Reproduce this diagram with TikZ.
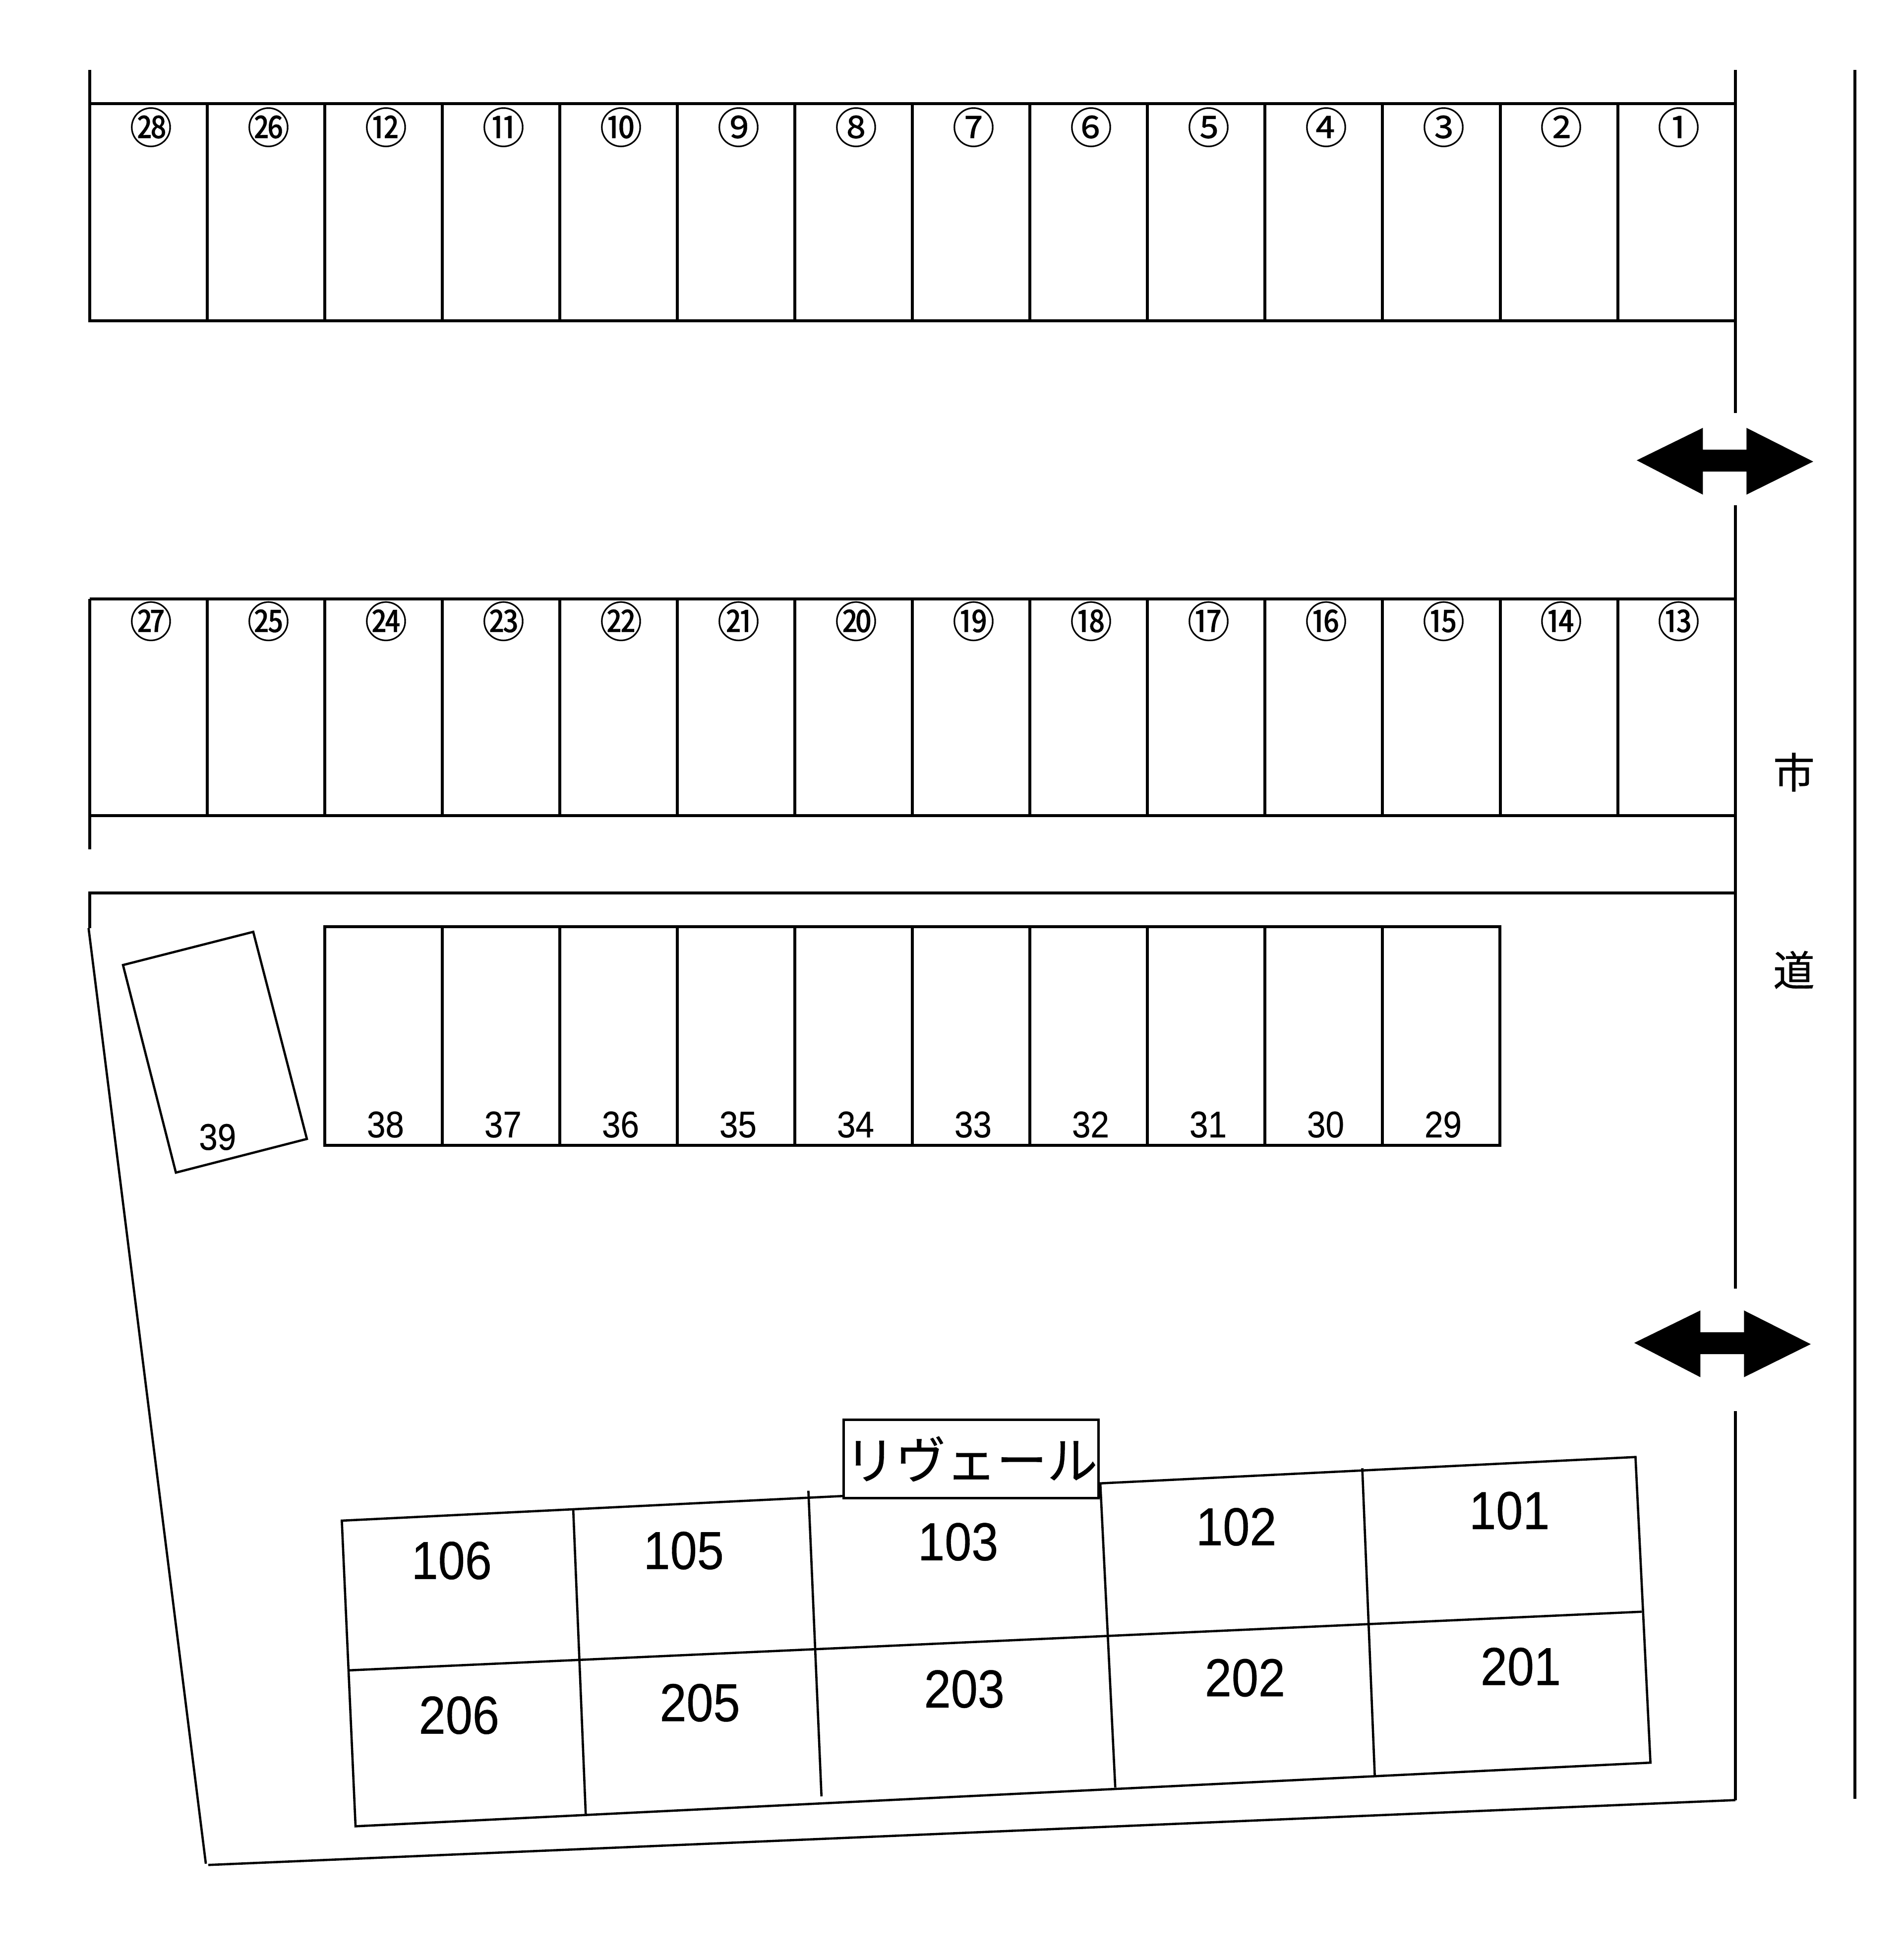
\documentclass[tikz,border=0pt]{standalone}
\usepackage{graphicx}
\usepackage{fontspec}
\setmainfont[FakeBold=.4]{Liberation Sans}
\newfontfamily\cjk[FakeBold=.4]{Noto Sans CJK JP}
\newcommand{\narrowed}[1]{\scalebox{.9}[1]{#1}}
\tikzset{
  thick line/.style={line width=1.5pt},
  thin line/.style={line width=1.15pt},
  circled/.style={inner sep=0pt,font=\cjk\fontsize{21.5}{23}\selectfont},
  slotnum/.style={inner sep=0pt,font=\fontsize{18.7}{20}\selectfont},
  roomnum/.style={inner sep=0pt,font=\fontsize{27}{29}\selectfont},
  roadname/.style={inner sep=0pt,font=\cjk\fontsize{21}{23}\selectfont},
}
\newcommand{\gatearrow}[2]{%
  \fill [shift={(#1,#2)}] (-71,-1) -- (-18,-27) -- (-18,-9.5) -- (17,-9.5) -- (17,-27) -- (70.5,0)
    -- (17,26.5) -- (17,8) -- (-18,8) -- (-18,26.5) -- cycle;}
\begin{document}
\begin{tikzpicture}[x=.629pt,y=-.629pt]
\useasboundingbox (0,0) rectangle (1526.2,1568);
% road
\draw [thick line] (1391,56) -- (1391,331);
\draw [thick line] (1391,405) -- (1391,1033);
\draw [thick line] (1391,1131) -- (1391,1443);
\draw [thick line] (1487,56) -- (1487,1442);
\gatearrow{1383}{370}
\gatearrow{1381}{1077.5}
\draw node [roadname] (RoadA) at (1438,619) {市};
\draw node [roadname] (RoadB) at (1438,777.5) {道};
% slots, two long rows
\draw [thick line] (72,56) -- (72,257) -- (1391,257);
\draw [thick line] (72,83) -- (1391,83);
\draw [thick line] (72,480) -- (72,681);
\draw [thick line] (72,480) -- (1391,480);
\draw [thick line] (72,654) -- (1391,654);
\foreach \i in {1,...,13} {
  \draw [thick line] ({72+94.21*\i},83) -- ({72+94.21*\i},257);
  \draw [thick line] ({72+94.21*\i},480) -- ({72+94.21*\i},654);
}
\foreach \c [count=\i from 0] in {㉘,㉖,⑫,⑪,⑩,⑨,⑧,⑦,⑥,⑤,④,③,②,①}
  \draw node [circled] (A\i) at ({121+94.2*\i},102) {\c};
\foreach \c [count=\i from 0] in {㉗,㉕,㉔,㉓,㉒,㉑,⑳,⑲,⑱,⑰,⑯,⑮,⑭,⑬}
  \draw node [circled] (B\i) at ({121+94.2*\i},498) {\c};
% third row
\draw [thick line] (72,744) -- (72,716) -- (1391,716);
\draw [thick line] (260.5,743) rectangle (1202.5,918);
\foreach \i in {1,...,9}
  \draw [thick line] ({260.5+94.2*\i},743) -- ({260.5+94.2*\i},918);
\foreach \n [count=\i from 0] in {38,37,36,35,34,33,32,31,30,29}
  \draw node [slotnum] (C\n) at ({309+94.2*\i},901.5) {\narrowed{\n}};
\draw [thin line] (98.6,773.6) -- (203,747) -- (246,913) -- (141,940) -- cycle;
\draw node [slotnum] (C39) at (174.4,911.5) {\narrowed{39}};
% site edge
\draw [thin line] (71,744) -- (165,1494);
\draw [thin line] (167,1495) -- (1391,1443);
% building
\draw [thin line] (274,1219) -- (1311,1168) -- (1323,1413) -- (285,1464) -- cycle;
\draw [thin line] (279.5,1339) -- (1316,1292);
\draw [thin line] (459.5,1210) -- (469.5,1454);
\draw [thin line] (648,1195) -- (658.5,1440);
\draw [thin line] (882,1189) -- (894,1433);
\draw [thin line] (1092,1177) -- (1102,1423);
\foreach \n/\x/\y in {106/362/1251,105/548/1243,103/768/1236,102/991/1224,101/1210/1211,
                      206/368/1375,205/561/1365,203/773/1354,202/998/1345,201/1219/1336}
  \draw node [roomnum] (R\n) at (\x,\y) {\narrowed{\n}};
\draw node [draw,thin line,fill=white,minimum width=128.5pt,minimum height=39.6pt,inner sep=0pt,
  font=\cjk\fontsize{25.5}{27}\selectfont] (Name) at (778.5,1169.5) {\raisebox{-1.2pt}{リヴェール}};
\end{tikzpicture}
\end{document}
